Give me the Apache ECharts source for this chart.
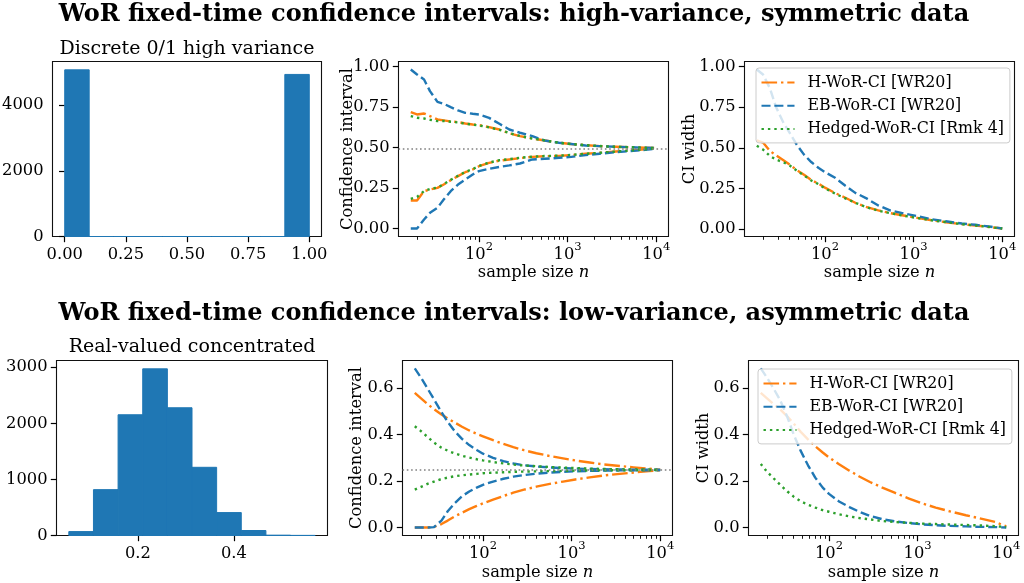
<!DOCTYPE html>
<html>
<head>
<meta charset="utf-8">
<script src="https://cdn.jsdelivr.net/npm/echarts@6.0.0/dist/echarts.min.js"></script>
<style>
html,body{margin:0;padding:0;background:#ffffff;}
#chart{width:1024px;height:583px;}
</style>
</head>
<body>
<div id="chart"></div>
<script>
// ------------------------------------------------------------------ text
const TITLE_HI = 'WoR fixed-time confidence intervals: high-variance, symmetric data';
const TITLE_LO = 'WoR fixed-time confidence intervals: low-variance, asymmetric data';
const SUB_HI = 'Discrete 0/1 high variance';
const SUB_LO = 'Real-valued concentrated';
const NAME_H = 'H-WoR-CI [WR20]';
const NAME_EB = 'EB-WoR-CI [WR20]';
const NAME_HG = 'Hedged-WoR-CI [Rmk 4]';

// ------------------------------------------------------------------ histograms
const HI_HIST_EDGES = [0, 0.1, 0.2, 0.3, 0.4, 0.5, 0.6, 0.7, 0.8, 0.9, 1.0];
const HI_HIST_COUNTS = [5070, 0, 0, 0, 0, 0, 0, 0, 0, 4930];
const LO_HIST_EDGES = [0.0563, 0.1076, 0.1589, 0.2102, 0.2615, 0.3128, 0.3641, 0.4154, 0.4667, 0.5180, 0.5693];
const LO_HIST_COUNTS = [70, 818, 2153, 2972, 2278, 1216, 409, 89, 6, 2];

// ------------------------------------------------------------------ tick labels
const HI_HIST_XTICKS = [0, 0.25, 0.5, 0.75, 1.0];
const HI_HIST_YTICKS = [0, 2000, 4000];
const LO_HIST_XTICKS = [0.2, 0.4];
const LO_HIST_YTICKS = [0, 1000, 2000, 3000];
const HI_CI_YTICKS = [0, 0.25, 0.5, 0.75, 1.0];
const LO_CI_YTICKS = [0, 0.2, 0.4, 0.6];
const N_DECADES = [2, 3, 4];                // 10^2, 10^3, 10^4
const N_MINOR = [20, 30, 40, 50, 60, 70, 80, 90, 200, 300, 400, 500, 600, 700, 800, 900,
                 2000, 3000, 4000, 5000, 6000, 7000, 8000, 9000];

// ------------------------------------------------------------------ sample sizes
const N_SIZES = [17, 20, 24, 28, 34, 40, 48, 58, 70, 85, 100, 130, 170, 220, 290, 400, 550, 800, 1100, 1600, 2300, 3500, 5000, 7500, 10000];

// ---- high variance (top row)
const HI_MEAN = 0.493;
const HI_H_UP  = [0.719, 0.705, 0.711, 0.695, 0.674, 0.668, 0.662, 0.658, 0.649, 0.643, 0.639, 0.627, 0.612, 0.588, 0.571, 0.557, 0.544, 0.530, 0.522, 0.515, 0.509, 0.505, 0.503, 0.499, 0.497];
const HI_H_LO  = [0.173, 0.173, 0.231, 0.241, 0.251, 0.272, 0.299, 0.324, 0.348, 0.365, 0.385, 0.406, 0.420, 0.427, 0.435, 0.443, 0.447, 0.449, 0.454, 0.462, 0.468, 0.476, 0.482, 0.489, 0.495];
const HI_EB_UP = [0.983, 0.952, 0.921, 0.849, 0.783, 0.771, 0.750, 0.730, 0.715, 0.709, 0.705, 0.684, 0.647, 0.612, 0.592, 0.571, 0.544, 0.530, 0.522, 0.513, 0.509, 0.505, 0.503, 0.499, 0.497];
const HI_EB_LO = [0.000, 0.000, 0.056, 0.097, 0.128, 0.179, 0.231, 0.272, 0.303, 0.334, 0.355, 0.369, 0.381, 0.390, 0.402, 0.427, 0.431, 0.437, 0.443, 0.454, 0.462, 0.472, 0.478, 0.486, 0.495];
const HI_HG_UP = [0.695, 0.685, 0.680, 0.672, 0.664, 0.665, 0.660, 0.656, 0.648, 0.642, 0.637, 0.625, 0.610, 0.590, 0.572, 0.556, 0.545, 0.530, 0.522, 0.515, 0.510, 0.505, 0.503, 0.499, 0.497];
const HI_HG_LO = [0.183, 0.196, 0.231, 0.245, 0.253, 0.274, 0.301, 0.326, 0.350, 0.367, 0.387, 0.408, 0.422, 0.429, 0.437, 0.444, 0.448, 0.450, 0.455, 0.462, 0.468, 0.476, 0.482, 0.489, 0.495];
const HI_H_W   = [0.546, 0.532, 0.480, 0.454, 0.423, 0.396, 0.363, 0.334, 0.301, 0.278, 0.254, 0.221, 0.192, 0.161, 0.136, 0.114, 0.097, 0.081, 0.068, 0.053, 0.041, 0.029, 0.021, 0.010, 0.002];
const HI_EB_W  = [0.983, 0.952, 0.865, 0.752, 0.655, 0.592, 0.519, 0.458, 0.412, 0.375, 0.350, 0.315, 0.266, 0.222, 0.190, 0.144, 0.113, 0.093, 0.079, 0.059, 0.047, 0.033, 0.025, 0.013, 0.002];
const HI_HG_W  = [0.512, 0.489, 0.449, 0.427, 0.411, 0.391, 0.359, 0.330, 0.298, 0.275, 0.250, 0.217, 0.188, 0.161, 0.135, 0.112, 0.097, 0.080, 0.067, 0.053, 0.042, 0.029, 0.021, 0.010, 0.002];

// ---- low variance (bottom row)
const LO_MEAN = 0.248;
const LO_H_UP  = [0.580, 0.556, 0.530, 0.510, 0.487, 0.470, 0.452, 0.434, 0.418, 0.404, 0.393, 0.376, 0.360, 0.346, 0.333, 0.320, 0.309, 0.298, 0.289, 0.280, 0.272, 0.265, 0.259, 0.253, 0.249];
const LO_H_LO  = [0.000, 0.000, 0.000, 0.003, 0.015, 0.030, 0.048, 0.064, 0.079, 0.093, 0.104, 0.120, 0.136, 0.150, 0.163, 0.176, 0.187, 0.198, 0.207, 0.216, 0.224, 0.231, 0.237, 0.243, 0.247];
const LO_EB_UP = [0.685, 0.645, 0.595, 0.552, 0.497, 0.455, 0.415, 0.382, 0.355, 0.334, 0.318, 0.300, 0.286, 0.276, 0.268, 0.263, 0.259, 0.256, 0.254, 0.252, 0.251, 0.250, 0.249, 0.249, 0.248];
const LO_EB_LO = [0.000, 0.000, 0.000, 0.002, 0.030, 0.070, 0.105, 0.135, 0.155, 0.172, 0.184, 0.198, 0.210, 0.219, 0.226, 0.232, 0.236, 0.240, 0.242, 0.244, 0.245, 0.246, 0.247, 0.247, 0.248];
const LO_HG_UP = [0.436, 0.415, 0.388, 0.366, 0.344, 0.331, 0.319, 0.309, 0.301, 0.294, 0.289, 0.282, 0.276, 0.271, 0.267, 0.264, 0.261, 0.258, 0.256, 0.254, 0.252, 0.251, 0.250, 0.249, 0.248];
const LO_HG_LO = [0.163, 0.175, 0.189, 0.198, 0.209, 0.215, 0.221, 0.225, 0.228, 0.231, 0.234, 0.236, 0.238, 0.240, 0.241, 0.242, 0.243, 0.244, 0.245, 0.246, 0.246, 0.247, 0.247, 0.248, 0.248];
const LO_H_W   = [0.580, 0.556, 0.530, 0.510, 0.478, 0.448, 0.412, 0.380, 0.350, 0.323, 0.302, 0.273, 0.245, 0.220, 0.196, 0.172, 0.150, 0.125, 0.105, 0.086, 0.070, 0.053, 0.040, 0.024, 0.005];
const LO_EB_W  = [0.685, 0.645, 0.595, 0.550, 0.475, 0.400, 0.330, 0.268, 0.215, 0.172, 0.145, 0.112, 0.088, 0.068, 0.050, 0.036, 0.027, 0.019, 0.014, 0.010, 0.007, 0.005, 0.003, 0.002, 0.000];
const LO_HG_W  = [0.274, 0.240, 0.210, 0.185, 0.155, 0.133, 0.113, 0.098, 0.086, 0.075, 0.068, 0.057, 0.048, 0.041, 0.035, 0.028, 0.024, 0.020, 0.017, 0.015, 0.013, 0.011, 0.009, 0.006, 0.002];

// ------------------------------------------------------------------ styles
const FONT = 'DejaVu Serif';
const FS = 16.3;
const FS_LEG = 15.8;
const C_H = '#ff7f0e', C_EB = '#1f77b4', C_HG = '#2ca02c', C_BAR = '#1f77b4';
const LW = 2.4;
const DASH_H = [15.6, 3.9, 2.4, 3.9];
const DASH_EB = [9.0, 3.9];
const DASH_HG = [2.4, 4.0];

// ------------------------------------------------------------------ helpers
function padded(arrs, frac) {
  let mn = Infinity, mx = -Infinity;
  arrs.forEach(a => a.forEach(v => { mn = Math.min(mn, v); mx = Math.max(mx, v); }));
  const p = frac * (mx - mn);
  return [mn - p, mx + p];
}
const LOGN = N_SIZES.map(v => Math.log10(v));
const LX = padded([LOGN], 0.05);                 // log-space x range
const NX = [Math.pow(10, LX[0]), Math.pow(10, LX[1])];
const N_MINOR_LOG = N_MINOR.map(v => Math.log10(v));

const HI_CI_R = padded([HI_H_UP, HI_H_LO, HI_EB_UP, HI_EB_LO, HI_HG_UP, HI_HG_LO], 0.05);
const HI_W_R = padded([HI_H_W, HI_EB_W, HI_HG_W], 0.05);
const LO_CI_R = padded([LO_H_UP, LO_H_LO, LO_EB_UP, LO_EB_LO, LO_HG_UP, LO_HG_LO], 0.05);
const LO_W_R = padded([LO_H_W, LO_EB_W, LO_HG_W], 0.05);
const HI_HX_R = padded([HI_HIST_EDGES], 0.05);
const LO_HX_R = padded([LO_HIST_EDGES], 0.05);
const HI_HY_R = [0, Math.max(...HI_HIST_COUNTS) * 1.05];
const LO_HY_R = [0, Math.max(...LO_HIST_COUNTS) * 1.05];

const txt = {color: '#000', fontFamily: FONT, fontSize: FS};

function valAxis(gi, pos, range, ticks, fmt, margin) {
  return {
    type: 'value', gridIndex: gi, position: pos, min: range[0], max: range[1],
    axisLine: {show: false}, splitLine: {show: false},
    axisTick: {show: true, customValues: ticks, length: 5.7, lineStyle: {color: '#000', width: 1.2}},
    axisLabel: Object.assign({show: true, customValues: ticks, formatter: fmt, margin: margin}, txt)
  };
}
function yName(ax, name, gap) {
  ax.name = name; ax.nameLocation = 'middle'; ax.nameRotate = 90; ax.nameGap = gap;
  ax.nameTextStyle = Object.assign({}, txt); ax.nameMoveOverlap = false;
  return ax;
}
function logAxes(gi, nameGap) {
  const hidden = {type: 'log', logBase: 10, gridIndex: gi, position: 'bottom', min: NX[0], max: NX[1], show: false};
  const major = valAxis(gi, 'bottom', LX, N_DECADES, v => '{b|10}{s|' + Math.round(v) + '}', 5);
  major.axisLabel.rich = {
    b: {color: '#000', fontFamily: FONT, fontSize: FS, padding: [5, 0, 0, 0]},
    s: {color: '#000', fontFamily: FONT, fontSize: 11.5, verticalAlign: 'top'}
  };
  major.name = '{a|sample size }{i|n}';
  major.nameLocation = 'middle';
  major.nameGap = nameGap;
  major.nameMoveOverlap = false;
  major.nameTextStyle = Object.assign({}, txt, {rich: {
    a: {color: '#000', fontFamily: FONT, fontSize: FS},
    i: {color: '#000', fontFamily: FONT, fontSize: FS, fontStyle: 'italic'}
  }});
  const minor = {
    type: 'value', gridIndex: gi, position: 'bottom', min: LX[0], max: LX[1],
    axisLine: {show: false}, splitLine: {show: false}, axisLabel: {show: false},
    axisTick: {show: true, customValues: N_MINOR_LOG, length: 3.3, lineStyle: {color: '#000', width: 0.9}}
  };
  return [hidden, major, minor];
}
function lineS(name, color, dash, ys, xi, yi) {
  return {
    type: 'line', name: name, xAxisIndex: xi, yAxisIndex: yi,
    data: N_SIZES.map((n, i) => [n, ys[i]]),
    symbol: 'none', showSymbol: false, silent: true, animation: false,
    lineStyle: {color: color, width: LW, type: dash, cap: 'butt', join: 'round'},
    itemStyle: {color: color}
  };
}
function meanLine(series, mean) {
  series.markLine = {
    silent: true, symbol: 'none', animation: false, label: {show: false},
    lineStyle: {color: '#808080', width: 1.6, type: [1.6, 2.7]},
    data: [{yAxis: mean}]
  };
  return series;
}
function histS(edges, counts, xi, yi) {
  return {
    type: 'custom', xAxisIndex: xi, yAxisIndex: yi, silent: true, animation: false,
    data: counts.map((c, i) => [edges[i], edges[i + 1], c]),
    encode: {x: [0, 1], y: 2},
    renderItem: function (params, api) {
      const p0 = api.coord([api.value(0), api.value(2)]);
      const p1 = api.coord([api.value(1), 0]);
      return {type: 'rect', shape: {x: p0[0], y: p0[1], width: p1[0] - p0[0], height: p1[1] - p0[1]},
              style: {fill: C_BAR, stroke: C_BAR, lineWidth: 1}};
    }
  };
}
function legendAt(left, top) {
  return {
    show: true, orient: 'vertical', left: left, top: top, data: [NAME_H, NAME_EB, NAME_HG],
    itemWidth: 33, itemHeight: 14, itemGap: 7.2, padding: [6.5, 6, 6, 4.5],
    backgroundColor: 'rgba(255,255,255,0.8)', borderColor: '#cccccc', borderWidth: 1, borderRadius: 3,
    textStyle: {color: '#000', fontFamily: FONT, fontSize: FS_LEG, padding: [0, 0, 0, 8]},
    itemStyle: {opacity: 0}, selectedMode: false
  };
}

// ------------------------------------------------------------------ layout
const GRIDS = [
  {left: 52.5, top: 61.5, width: 269, height: 175},
  {left: 398.5, top: 61.5, width: 270, height: 175},
  {left: 744.5, top: 61.5, width: 270, height: 175},
  {left: 56.5, top: 360.5, width: 271, height: 175},
  {left: 402.5, top: 360.5, width: 270, height: 175},
  {left: 748.5, top: 360.5, width: 270, height: 175}
].map(g => Object.assign({show: true, borderColor: '#111', borderWidth: 1.1, containLabel: false, outerBoundsMode: 'none'}, g));

const f2 = v => v.toFixed(2), f1 = v => v.toFixed(1), f0 = v => String(Math.round(v));

const xAxes = [].concat(
  [valAxis(0, 'bottom', HI_HX_R, HI_HIST_XTICKS, f2, 10)],    // 0
  logAxes(1, 28),                                              // 1,2,3
  logAxes(2, 28),                                              // 4,5,6
  [valAxis(3, 'bottom', LO_HX_R, LO_HIST_XTICKS, f1, 10)],    // 7
  logAxes(4, 29),                                              // 8,9,10
  logAxes(5, 29)                                               // 11,12,13
);
const yAxes = [
  valAxis(0, 'left', HI_HY_R, HI_HIST_YTICKS, f0, 9),
  yName(valAxis(1, 'left', HI_CI_R, HI_CI_YTICKS, f2, 9), 'Confidence interval', 43),
  yName(valAxis(2, 'left', HI_W_R, HI_CI_YTICKS, f2, 9), 'CI width', 47),
  valAxis(3, 'left', LO_HY_R, LO_HIST_YTICKS, f0, 9),
  yName(valAxis(4, 'left', LO_CI_R, LO_CI_YTICKS, f1, 9), 'Confidence interval', 38),
  yName(valAxis(5, 'left', LO_W_R, LO_CI_YTICKS, f1, 9), 'CI width', 37)
];

const series = [
  histS(HI_HIST_EDGES, HI_HIST_COUNTS, 0, 0),
  meanLine(lineS(NAME_H, C_H, DASH_H, HI_H_UP, 1, 1), HI_MEAN),
  lineS(NAME_H, C_H, DASH_H, HI_H_LO, 1, 1),
  lineS(NAME_EB, C_EB, DASH_EB, HI_EB_UP, 1, 1),
  lineS(NAME_EB, C_EB, DASH_EB, HI_EB_LO, 1, 1),
  lineS(NAME_HG, C_HG, DASH_HG, HI_HG_UP, 1, 1),
  lineS(NAME_HG, C_HG, DASH_HG, HI_HG_LO, 1, 1),
  lineS(NAME_H, C_H, DASH_H, HI_H_W, 4, 2),
  lineS(NAME_EB, C_EB, DASH_EB, HI_EB_W, 4, 2),
  lineS(NAME_HG, C_HG, DASH_HG, HI_HG_W, 4, 2),
  histS(LO_HIST_EDGES, LO_HIST_COUNTS, 7, 3),
  meanLine(lineS(NAME_H, C_H, DASH_H, LO_H_UP, 8, 4), LO_MEAN),
  lineS(NAME_H, C_H, DASH_H, LO_H_LO, 8, 4),
  lineS(NAME_EB, C_EB, DASH_EB, LO_EB_UP, 8, 4),
  lineS(NAME_EB, C_EB, DASH_EB, LO_EB_LO, 8, 4),
  lineS(NAME_HG, C_HG, DASH_HG, LO_HG_UP, 8, 4),
  lineS(NAME_HG, C_HG, DASH_HG, LO_HG_LO, 8, 4),
  lineS(NAME_H, C_H, DASH_H, LO_H_W, 11, 5),
  lineS(NAME_EB, C_EB, DASH_EB, LO_EB_W, 11, 5),
  lineS(NAME_HG, C_HG, DASH_HG, LO_HG_W, 11, 5)
];

const bold = {color: '#000', fontFamily: FONT, fontSize: 24, fontWeight: 'bold'};
const sub = {color: '#000', fontFamily: FONT, fontSize: 19, fontWeight: 'normal'};
const option = {
  backgroundColor: '#ffffff',
  animation: false,
  title: [
    {text: TITLE_HI, left: 514, top: 3, textAlign: 'center', padding: 0, textStyle: bold},
    {text: SUB_HI, left: 187, top: 40, textAlign: 'center', padding: 0, textStyle: sub},
    {text: TITLE_LO, left: 514, top: 302, textAlign: 'center', padding: 0, textStyle: bold},
    {text: SUB_LO, left: 192, top: 338, textAlign: 'center', padding: 0, textStyle: sub}
  ],
  legend: [legendAt(756, 68), legendAt(758, 369)],
  grid: GRIDS,
  xAxis: xAxes,
  yAxis: yAxes,
  series: series
};

const chart = echarts.init(document.getElementById('chart'), null, {renderer: 'canvas'});
chart.setOption(option);
</script>
</body>
</html>
